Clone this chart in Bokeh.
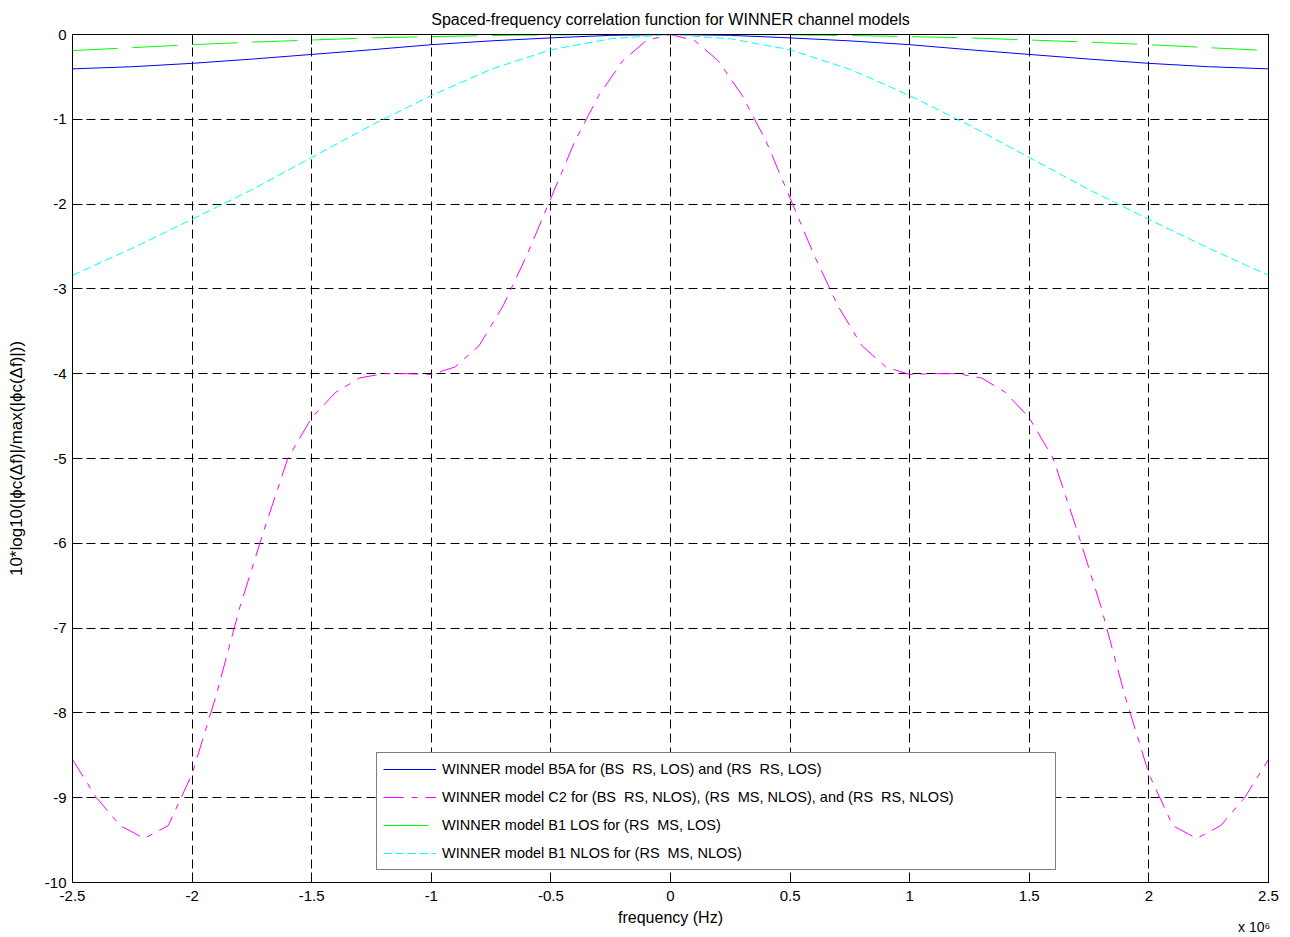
from bokeh.plotting import figure
from bokeh.models import (LinearAxis, FixedTicker, Legend, LegendItem, Range1d)
from bokeh.embed import file_html
from bokeh.resources import INLINE

# ---------------- data (frequency in MHz, values in dB) ----------------
freq_fine_mhz = [-2.5, -2.4, -2.3, -2.2, -2.1, -2.0, -1.9, -1.8, -1.7, -1.6,
                 -1.5, -1.4, -1.3, -1.2, -1.1, -1.0, -0.9, -0.8, -0.7, -0.6,
                 -0.5, -0.4, -0.3, -0.2, -0.1, 0.0, 0.1, 0.2, 0.3, 0.4,
                 0.5, 0.6, 0.7, 0.8, 0.9, 1.0, 1.1, 1.2, 1.3, 1.4,
                 1.5, 1.6, 1.7, 1.8, 1.9, 2.0, 2.1, 2.2, 2.3, 2.4, 2.5]
c2_db = [-8.55, -9.0, -9.33, -9.48, -9.33, -8.72, -7.8, -6.75, -5.85, -5.0,
         -4.52, -4.22, -4.05, -4.0, -4.0, -4.01, -3.92, -3.67, -3.2, -2.6,
         -1.93, -1.26, -0.72, -0.31, -0.07, 0.0, -0.07, -0.31, -0.72, -1.26,
         -1.93, -2.6, -3.2, -3.67, -3.92, -4.01, -4.0, -4.0, -4.05, -4.22,
         -4.52, -5.0, -5.85, -6.75, -7.8, -8.72, -9.33, -9.48, -9.33, -9.0, -8.55]

freq_coarse_mhz = [-2.5, -2.25, -2.0, -1.75, -1.5, -1.25, -1.0, -0.75, -0.5, -0.25, 0.0,
                   0.25, 0.5, 0.75, 1.0, 1.25, 1.5, 1.75, 2.0, 2.25, 2.5]
b5a_db = [-0.405, -0.38, -0.34, -0.29, -0.235, -0.18, -0.12, -0.075, -0.04, -0.01, 0.0,
          -0.01, -0.04, -0.075, -0.12, -0.18, -0.235, -0.29, -0.34, -0.38, -0.405]
b1_los_db = [-0.19, -0.155, -0.12, -0.09, -0.065, -0.04, -0.025, -0.012, -0.005, 0.0, 0.0,
             0.0, -0.005, -0.012, -0.025, -0.04, -0.065, -0.09, -0.12, -0.155, -0.19]
b1_nlos_db = [-2.84, -2.52, -2.18, -1.83, -1.45, -1.07, -0.72, -0.41, -0.18, -0.05, 0.0,
              -0.05, -0.18, -0.41, -0.72, -1.07, -1.45, -1.83, -2.18, -2.52, -2.84]

x_ticks_mhz = [-2.5, -2.0, -1.5, -1.0, -0.5, 0.0, 0.5, 1.0, 1.5, 2.0, 2.5]
x_tick_labels = ["-2.5", "-2", "-1.5", "-1", "-0.5", "0", "0.5", "1", "1.5", "2", "2.5"]
y_ticks = [-10, -9, -8, -7, -6, -5, -4, -3, -2, -1, 0]
y_tick_labels = ["-10", "-9", "-8", "-7", "-6", "-5", "-4", "-3", "-2", "-1", "0"]

x_axis_title = "frequency (Hz)"
x_exponent_text = "x 10⁶"
y_axis_title = "10*log10(|ϕc(Δf)|/max(|ϕc(Δf)|))"
chart_title = "Spaced-frequency correlation function for WINNER channel models"

legend_labels = [
    "WINNER model B5A for (BS  RS, LOS) and (RS  RS, LOS)",
    "WINNER model C2 for (BS  RS, NLOS), (RS  MS, NLOS), and (RS  RS, NLOS)",
    "WINNER model B1 LOS for (RS  MS, LOS)",
    "WINNER model B1 NLOS for (RS  MS, NLOS)",
]

FONT = "Liberation Sans"

x_fine = [f * 1e6 for f in freq_fine_mhz]
x_coarse = [f * 1e6 for f in freq_coarse_mhz]
x_ticks = [f * 1e6 for f in x_ticks_mhz]

p = figure(width=1290, height=937, output_backend="svg", toolbar_location=None,
           x_range=Range1d(-2.5e6, 2.5e6), y_range=Range1d(-10, 0),
           min_border_left=72, min_border_right=22, min_border_top=34, min_border_bottom=55,
           title=chart_title)

p.title.align = "center"
p.title.text_font = FONT
p.title.text_font_style = "normal"
p.title.text_font_size = "16px"
p.title.text_color = "black"
p.title.standoff = 14

p.outline_line_color = "black"
p.outline_line_width = 1
p.background_fill_color = "white"
p.border_fill_color = "white"

xax = p.xaxis[0]
xax.ticker = FixedTicker(ticks=x_ticks)
xax.major_label_overrides = {t: l for t, l in zip(x_ticks, x_tick_labels)}
yax = p.yaxis[0]
yax.ticker = FixedTicker(ticks=y_ticks)
yax.major_label_overrides = {t: l for t, l in zip(y_ticks, y_tick_labels)}
yax.axis_label = y_axis_title

for ax in (xax, yax):
    ax.major_tick_in = 10
    ax.major_tick_out = 0
    ax.minor_tick_in = 0
    ax.minor_tick_out = 0
    ax.axis_line_color = "black"
    ax.major_tick_line_color = "black"
    ax.major_label_text_font = FONT
    ax.major_label_text_font_size = "15px"
    ax.major_label_text_color = "black"
    ax.axis_label_text_font = FONT
    ax.axis_label_text_font_size = "17px"
    ax.axis_label_text_font_style = "normal"
    ax.axis_label_text_color = "black"
xax.major_label_standoff = 8
yax.major_label_standoff = 6
yax.axis_label_standoff = 16

# x axis title, drawn as the single label of a bare axis below the main one
xlab_ax = LinearAxis(ticker=FixedTicker(ticks=[0.0]),
                     major_label_overrides={0.0: x_axis_title},
                     axis_line_color=None, major_tick_line_color=None, minor_tick_line_color=None,
                     major_tick_in=0, major_tick_out=0, minor_tick_in=0, minor_tick_out=0,
                     major_label_standoff=5, major_label_text_font=FONT,
                     major_label_text_font_size="16px", major_label_text_color="black")
p.add_layout(xlab_ax, "below")
# the "x 10^6" multiplier, bottom right
exp_pos = 2.44e6
exp_ax = LinearAxis(ticker=FixedTicker(ticks=[exp_pos]),
                    major_label_overrides={exp_pos: x_exponent_text},
                    axis_line_color=None, major_tick_line_color=None, minor_tick_line_color=None,
                    major_tick_in=0, major_tick_out=0, minor_tick_in=0, minor_tick_out=0,
                    major_label_standoff=-10, major_label_text_font=FONT,
                    major_label_text_font_size="14px", major_label_text_color="black")
p.add_layout(exp_ax, "below")

# mirrored ticks on top and right (MATLAB box style), without labels
top_ax = LinearAxis(ticker=FixedTicker(ticks=x_ticks), major_tick_in=10, major_tick_out=0,
                    minor_tick_in=0, minor_tick_out=0,
                    major_label_overrides={t: "" for t in x_ticks},
                    major_label_standoff=0, axis_line_color="black")
right_ax = LinearAxis(ticker=FixedTicker(ticks=y_ticks), major_tick_in=10, major_tick_out=0,
                      minor_tick_in=0, minor_tick_out=0,
                      major_label_overrides={t: "" for t in y_ticks},
                      major_label_standoff=0, axis_line_color="black")
p.add_layout(top_ax, "above")
p.add_layout(right_ax, "right")

for g in (p.xgrid[0], p.ygrid[0]):
    g.grid_line_color = "black"
    g.grid_line_dash = "9 5"
    g.grid_line_width = 1
p.xgrid[0].ticker = FixedTicker(ticks=x_ticks)
p.ygrid[0].ticker = FixedTicker(ticks=y_ticks)

r_b5a = p.line(x_coarse, b5a_db, line_color="#0000FF", line_width=1)
r_c2 = p.line(x_fine, c2_db, line_color="#FF00FF", line_width=1, line_dash="20 8 6 8")
r_b1l = p.line(x_coarse, b1_los_db, line_color="#00FF00", line_width=1, line_dash="45 15")
r_b1n = p.line(x_coarse, b1_nlos_db, line_color="#00FFFF", line_width=1, line_dash="8 4")

legend = Legend(items=[LegendItem(label=legend_labels[0], renderers=[r_b5a]),
                       LegendItem(label=legend_labels[1], renderers=[r_c2]),
                       LegendItem(label=legend_labels[2], renderers=[r_b1l]),
                       LegendItem(label=legend_labels[3], renderers=[r_b1n])],
                location=(304, 12), orientation="vertical")
legend.padding = 6
legend.margin = 0
legend.spacing = 8
legend.glyph_width = 53
legend.glyph_height = 20
legend.label_height = 20
legend.label_width = 607
legend.label_standoff = 6
legend.label_text_font = FONT
legend.label_text_font_size = "14.5px"
legend.label_text_color = "black"
legend.border_line_color = "black"
legend.border_line_width = 1
legend.background_fill_color = "white"
legend.background_fill_alpha = 1
p.add_layout(legend, "center")

open("out.html", "w").write(file_html(p, INLINE))
